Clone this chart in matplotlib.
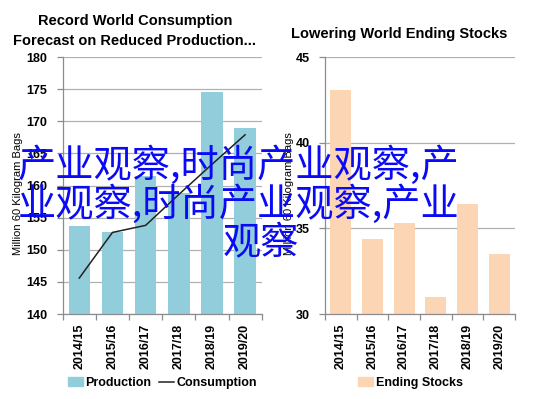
import matplotlib
matplotlib.use("Agg")
import matplotlib.pyplot as plt
import numpy as np
from matplotlib.patches import Patch
from matplotlib.lines import Line2D

# data
years = ["2014/15", "2015/16", "2016/17", "2017/18", "2018/19", "2019/20"]
production = [153.7, 152.8, 161.5, 158.8, 174.5, 169.0]
consumption = [145.6, 152.7, 153.8, 158.6, 163.3, 167.9]
ending_stocks = [43.1, 34.4, 35.3, 31.0, 36.4, 33.5]

watermark = ["产业观察,时尚产业观察,产", "业观察,时尚产业观察,产业", "观察"]

blue = "#92CDDC"
peach = "#FCD5B5"
grid_col = "#B0B0B0"

plt.rcParams["font.family"] = ["Liberation Sans", "DejaVu Sans"]

fig = plt.figure(figsize=(5.37, 3.99), dpi=100)
ax1 = fig.add_axes([0.1168, 0.213, 0.3705, 0.644])
ax2 = fig.add_axes([0.605, 0.213, 0.354, 0.644])

x = np.arange(len(years))
tick_font = {"weight": "bold", "size": 9}


def style_axes(ax, ymin, ymax, step, label_x):
    ax.set_xlim(-0.5, len(years) - 0.5)
    ax.set_ylim(ymin, ymax)
    ax.set_yticks(np.arange(ymin, ymax + 0.1, step))
    ax.yaxis.grid(True, color=grid_col, lw=0.9)
    ax.set_axisbelow(True)
    for s in ["top", "right"]:
        ax.spines[s].set_visible(False)
    for s in ["left", "bottom"]:
        ax.spines[s].set_color("#8C8C8C")
        ax.spines[s].set_linewidth(0.9)
    ax.set_xticks(x)
    ax.set_xticklabels(years, rotation=90, fontdict=tick_font)
    ax.tick_params(axis="x", length=0, pad=7)
    ax.set_xticks(np.arange(-0.5, len(years)), minor=True)
    ax.tick_params(axis="x", which="minor", length=4, color="#8C8C8C", width=0.9)
    ax.tick_params(axis="y", length=4, color="#8C8C8C", width=0.9, pad=7)
    ax.set_yticklabels([str(int(v)) for v in ax.get_yticks()], fontdict=tick_font)
    ax.set_ylabel("Million 60 Kilogram Bags", fontsize=8)
    ax.yaxis.set_label_coords(label_x, 0.467)


# left chart: production bars + consumption line
ax1.bar(x, production, width=0.65, color=blue, zorder=2)
ax1.plot(x, consumption, color="#222222", lw=1.1, zorder=3)
style_axes(ax1, 140, 180, 5, -0.20)
ax1.set_title("Record World Consumption\nForecast on Reduced Production...",
              fontsize=10.5, fontweight="bold", pad=9, linespacing=1.55, x=0.363)
ax1.legend(handles=[Patch(color=blue, label="Production"),
                    Line2D([0], [0], color="#222222", lw=1.1, label="Consumption")],
           loc="center", bbox_to_anchor=(0.5, -0.268), ncol=2, frameon=False,
           prop={"weight": "bold", "size": 9}, handlelength=1.2, handletextpad=0.2,
           columnspacing=0.6)

# right chart: ending stocks
ax2.bar(x, ending_stocks, width=0.66, color=peach, zorder=2)
style_axes(ax2, 30, 45, 5, -0.165)
ax2.set_title("Lowering World Ending Stocks", fontsize=10.5, fontweight="bold",
              pad=14, x=0.39)
ax2.legend(handles=[Patch(color=peach, label="Ending Stocks")],
           loc="center", bbox_to_anchor=(0.45, -0.268), frameon=False,
           prop={"weight": "bold", "size": 9}, handlelength=1.2, handletextpad=0.2)

# blue watermark text on top
wm_font = ["Noto Sans CJK SC", "DejaVu Sans"]
fig.text(18 / 537, 1 - 166 / 399, watermark[0], fontsize=27.5, color="#0A0AF5",
         family=wm_font, ha="left", va="center")
fig.text(18 / 537, 1 - 205 / 399, watermark[1], fontsize=27.5, color="#0A0AF5",
         family=wm_font, ha="left", va="center")
fig.text(261 / 537, 1 - 244 / 399, watermark[2], fontsize=27.5, color="#0A0AF5",
         family=wm_font, ha="center", va="center")

fig.savefig("out.png", dpi=100)
